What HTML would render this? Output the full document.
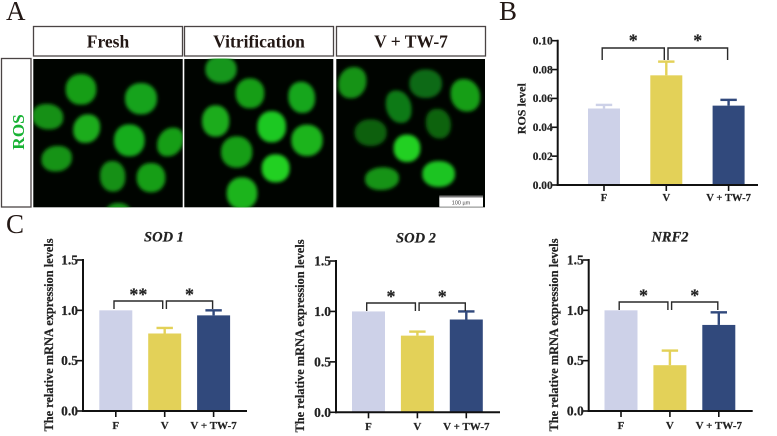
<!DOCTYPE html>
<html lang="en">
<head>
<meta charset="utf-8">
<title>ROS levels and antioxidant gene expression</title>
<style>
html,body{margin:0;padding:0;background:#fff;width:777px;height:436px;overflow:hidden}
svg{display:block;font-family:"Liberation Serif",serif;font-weight:bold}
#charts text{stroke:#222;stroke-width:.2}
</style>
</head>
<body>
<svg id="fig" width="777" height="436" viewBox="0 0 777 436" xmlns="http://www.w3.org/2000/svg">
<defs>
<filter id="blur" x="-30%" y="-30%" width="160%" height="160%"><feMorphology operator="dilate" radius="3"/><feGaussianBlur stdDeviation="5.5"/></filter>
<clipPath id="clip1"><rect x="100" y="177" width="448" height="445"/></clipPath>
<clipPath id="clip2"><rect x="553" y="177" width="447" height="445"/></clipPath>
<clipPath id="clip3"><rect x="229" y="177" width="446" height="445"/></clipPath>
</defs>

<text x="6" y="20" font-size="27" font-weight="normal" fill="#231815">A</text>
<text x="499" y="20" font-size="27" font-weight="normal" fill="#231815">B</text>
<text x="6" y="233" font-size="27" font-weight="normal" fill="#231815">C</text>

<g fill="#fff" stroke="#4a4444" stroke-width="1.3">
<rect x="33.5" y="26.5" width="149" height="29.5"/>
<rect x="184.5" y="26.5" width="149" height="29.5"/>
<rect x="336.5" y="26.5" width="149" height="29.5"/>
<rect x="1.5" y="58.5" width="29.5" height="148.5"/>
</g>
<g font-size="17.5" fill="#231815" text-anchor="middle">
<text x="108" y="47.5">Fresh</text>
<text x="259" y="47.5">Vitrification</text>
<text x="411" y="47.5">V + TW-7</text>
</g>
<text transform="translate(24,132) rotate(-90)" font-size="17.3" fill="#17b233" text-anchor="middle">ROS</text>

<rect x="33.3" y="59" width="149.4" height="148.3" fill="#000400"/>
<rect x="184.3" y="59" width="149" height="148.3" fill="#000400"/>
<rect x="336.3" y="59" width="148.7" height="148.3" fill="#000400"/>

<g transform="scale(0.33333)">
<g clip-path="url(#clip1)"><g filter="url(#blur)">
<ellipse cx="243" cy="268" rx="43" ry="43" fill="#169e19"/>
<ellipse cx="423" cy="296" rx="45" ry="44" fill="#19a31c"/>
<ellipse cx="143" cy="350" rx="44" ry="35" transform="rotate(10 143 350)" fill="#139016"/>
<ellipse cx="260" cy="386" rx="36" ry="41" transform="rotate(30 260 386)" fill="#1aac1d"/>
<ellipse cx="388" cy="421" rx="43" ry="45" fill="#19ac1c"/>
<ellipse cx="511" cy="426" rx="33" ry="43" transform="rotate(35 511 426)" fill="#169e19"/>
<ellipse cx="170" cy="476" rx="43" ry="35" transform="rotate(-12 170 476)" fill="#149317"/>
<ellipse cx="338" cy="529" rx="35" ry="43" transform="rotate(-5 338 529)" fill="#139016"/>
<ellipse cx="453" cy="533" rx="40" ry="41" fill="#169e19"/>
<ellipse cx="355" cy="640" rx="35" ry="28" fill="#149317"/>
</g></g>
<g clip-path="url(#clip2)"><g filter="url(#blur)">
<ellipse cx="663" cy="208" rx="44" ry="38" fill="#14961a"/>
<ellipse cx="750" cy="280" rx="40" ry="42" fill="#169e19"/>
<ellipse cx="647" cy="363" rx="38" ry="44" fill="#1aac1d"/>
<ellipse cx="710" cy="456" rx="44" ry="44" fill="#169e19"/>
<ellipse cx="726" cy="580" rx="43" ry="45" fill="#1bb41e"/>
<ellipse cx="905" cy="292" rx="37" ry="44" transform="rotate(-10 905 292)" fill="#18a61b"/>
<ellipse cx="815" cy="380" rx="40" ry="44" fill="#1ec821"/>
<ellipse cx="921" cy="421" rx="44" ry="44" fill="#1bb41e"/>
<ellipse cx="827" cy="505" rx="39" ry="39" fill="#21d023"/>
</g></g>
</g>
<g transform="translate(260,0) scale(0.33333)">
<g clip-path="url(#clip3)"><g filter="url(#blur)">
<ellipse cx="277" cy="248" rx="38" ry="45" transform="rotate(25 277 248)" fill="#149317"/>
<ellipse cx="497" cy="251" rx="46" ry="40" fill="#0f6a12"/>
<ellipse cx="616" cy="286" rx="40" ry="47" transform="rotate(-25 616 286)" fill="#169e19"/>
<ellipse cx="416" cy="320" rx="34" ry="47" transform="rotate(-20 416 320)" fill="#117a14"/>
<ellipse cx="535" cy="371" rx="34" ry="42" transform="rotate(-15 535 371)" fill="#0e6411"/>
<ellipse cx="332" cy="398" rx="45" ry="37" fill="#0d6010"/>
<ellipse cx="441" cy="445" rx="37" ry="38" fill="#21d023"/>
<ellipse cx="366" cy="536" rx="48" ry="31" transform="rotate(-4 366 536)" fill="#149317"/>
<ellipse cx="536" cy="522" rx="46" ry="36" fill="#1ec421"/>
</g></g>
</g>

<g>
<rect x="439.3" y="196.5" width="43.7" height="10.3" fill="#fff"/>
<rect x="439.3" y="195.5" width="43.7" height="2" fill="#777"/>
<text x="461" y="204.5" font-family="Liberation Sans, sans-serif" font-size="5.5" font-weight="normal" fill="#444" text-anchor="middle">100 µm</text>
</g>

<g id="charts"></g>
</svg>

<script>
const groupLabels = ['F', 'V', 'V + TW-7'];
const barColors = ['#cdd1e8', '#e3d158', '#31497c'];

const rosTicks = ['0.00', '0.02', '0.04', '0.06', '0.08', '0.10'];
const rosMeans = [0.053, 0.076, 0.055];
const rosErrorTops = [0.0555, 0.0855, 0.059];
const rosStars = ['*', '*'];

const mrnaTicks = ['0.0', '0.5', '1.0', '1.5'];

const sod1Means = [1.0, 0.77, 0.95];
const sod1ErrorTops = [1.0, 0.825, 1.0];
const sod1Stars = ['**', '*'];

const sod2Means = [1.0, 0.76, 0.92];
const sod2ErrorTops = [1.0, 0.80, 1.0];
const sod2Stars = ['*', '*'];

const nrf2Means = [1.0, 0.455, 0.855];
const nrf2ErrorTops = [1.0, 0.60, 0.98];
const nrf2Stars = ['*', '*'];

const SVGNS = 'http://www.w3.org/2000/svg';
const root = document.getElementById('charts');

function mk(parent, tag, name, attrs, text) {
  const el = document.createElementNS(SVGNS, tag);
  
  
  for (const k in attrs) el.setAttribute(k, attrs[k]);
  if (text !== undefined) el.textContent = text;
  parent.appendChild(el);
  return el;
}

function drawChart(o) {
  const g = mk(root, 'g', o.id + '-chart', {});
  const tickVals = o.ticks.map(Number);
  const yMax = Math.max.apply(null, tickVals);
  const yScale = v => o.y0 - (v / yMax) * (o.y0 - o.yTop);
  const xScale = i => o.firstCenter + i * o.step;
  const ink = '#111';

  // bars and error bars
  o.means.forEach((m, i) => {
    const cx = xScale(i);
    const top = yScale(o.errorTops[i]);
    if (o.errorTops[i] > m) {
      mk(g, 'rect', o.id + '-error-stem-' + i, {x: cx - 1.2, y: top, width: 2.4, height: yScale(m) - top, fill: barColors[i]});
      mk(g, 'rect', o.id + '-error-cap-' + i, {x: cx - 8.2, y: top - 1.2, width: 16.4, height: 2.4, fill: barColors[i]});
    }
    mk(g, 'rect', o.id + '-bar-' + i, {x: cx - o.barW / 2, y: yScale(m), width: o.barW, height: o.y0 - yScale(m), fill: barColors[i]});
  });

  // axes
  mk(g, 'line', o.id + '-y-axis', {x1: o.axisX, x2: o.axisX, y1: o.yTop - 1, y2: o.y0 + 1, stroke: ink, 'stroke-width': 2});
  mk(g, 'line', o.id + '-x-axis', {x1: o.axisX - 1, x2: o.xEnd, y1: o.y0, y2: o.y0, stroke: ink, 'stroke-width': 2});

  // y ticks
  o.ticks.forEach(t => {
    const y = yScale(Number(t));
    mk(g, 'line', o.id + '-y-tick', {x1: o.axisX - 6, x2: o.axisX, y1: y, y2: y, stroke: ink, 'stroke-width': 1.6});
    mk(g, 'text', o.id + '-y-tick-label', {x: o.axisX - 5, y: y + o.tickFont * 0.33, 'font-size': o.tickFont, 'text-anchor': 'end', fill: '#222'}, t);
  });

  // x ticks
  groupLabels.forEach((lab, i) => {
    const cx = xScale(i);
    mk(g, 'line', o.id + '-x-tick', {x1: cx, x2: cx, y1: o.y0, y2: o.y0 + 6, stroke: ink, 'stroke-width': 1.6});
    mk(g, 'text', o.id + '-x-tick-label', {x: cx, y: o.xLabelY, 'font-size': o.xFont, 'text-anchor': 'middle', fill: '#222'}, lab);
  });

  // y title
  mk(g, 'text', o.id + '-y-axis-title', {transform: 'translate(' + o.titleX + ',' + o.titleY + ') rotate(-90)', 'font-size': o.titleFont, 'text-anchor': 'middle', fill: '#222', textLength: o.titleLen, lengthAdjust: 'spacingAndGlyphs'}, o.yTitle);

  // chart title
  if (o.title) {
    mk(g, 'text', o.id + '-title', {x: o.titleCx, y: o.titleBase, 'font-size': 14.5, 'font-style': 'italic', 'text-anchor': 'middle', fill: '#222'}, o.title);
  }

  // significance brackets
  const bracket = (a, b, side, star) => {
    const xa = xScale(a) + (side === 0 ? -1.8 : 1.7);
    const xb = xScale(b) + (side === 0 ? -2.0 : -1);
    const d = 'M' + xa + ' ' + (o.brTop + o.brDrop) + 'V' + o.brTop + 'H' + xb + 'V' + (o.brTop + o.brDrop);
    mk(g, 'path', o.id + '-significance-bracket-' + side, {d: d, fill: 'none', stroke: '#2a2a2a', 'stroke-width': 1.4});
    mk(g, 'text', o.id + '-significance-star-' + side, {x: (xa + xb) / 2, y: o.brTop + o.starDy, 'font-size': 18, 'text-anchor': 'middle', fill: '#222'}, star);
  };
  bracket(0, 1, 0, o.stars[0]);
  bracket(1, 2, 1, o.stars[1]);
}

const mrnaTitle = 'The relative mRNA expression levels';

drawChart({id: 'ros', ticks: rosTicks, means: rosMeans, errorTops: rosErrorTops, stars: rosStars,
  y0: 185, yTop: 40.7, axisX: 557.7, xEnd: 758, firstCenter: 604, step: 62.3, barW: 32,
  tickFont: 11.4, xFont: 10.6, xLabelY: 201, yTitle: 'ROS level', titleFont: 11.5, titleLen: 51, titleX: 525.7, titleY: 108.7,
  brTop: 48, brDrop: 12, starDy: -1.5});

drawChart({id: 'sod1', ticks: mrnaTicks, means: sod1Means, errorTops: sod1ErrorTops, stars: sod1Stars, title: 'SOD 1', titleCx: 164, titleBase: 241.7,
  y0: 411, yTop: 260, axisX: 83, xEnd: 247, firstCenter: 115.8, step: 48.9, barW: 33,
  tickFont: 13.5, xFont: 11, xLabelY: 429, yTitle: mrnaTitle, titleFont: 12.2, titleLen: 193, titleX: 53, titleY: 335,
  brTop: 301, brDrop: 8, starDy: -0.5});

drawChart({id: 'sod2', ticks: mrnaTicks, means: sod2Means, errorTops: sod2ErrorTops, stars: sod2Stars, title: 'SOD 2', titleCx: 416, titleBase: 242.7,
  y0: 412.3, yTop: 261, axisX: 336, xEnd: 500, firstCenter: 368.5, step: 48.9, barW: 33,
  tickFont: 13.5, xFont: 11, xLabelY: 430, yTitle: mrnaTitle, titleFont: 12.2, titleLen: 193, titleX: 304, titleY: 336,
  brTop: 303, brDrop: 8, starDy: -0.5});

drawChart({id: 'nrf2', ticks: mrnaTicks, means: nrf2Means, errorTops: nrf2ErrorTops, stars: nrf2Stars, title: 'NRF2', titleCx: 670, titleBase: 241.7,
  y0: 411, yTop: 260, axisX: 588.7, xEnd: 752.7, firstCenter: 621, step: 48.9, barW: 33,
  tickFont: 13.5, xFont: 11, xLabelY: 429, yTitle: mrnaTitle, titleFont: 12.2, titleLen: 193, titleX: 558, titleY: 335,
  brTop: 302, brDrop: 8, starDy: -0.5});
</script>
</body>
</html>
